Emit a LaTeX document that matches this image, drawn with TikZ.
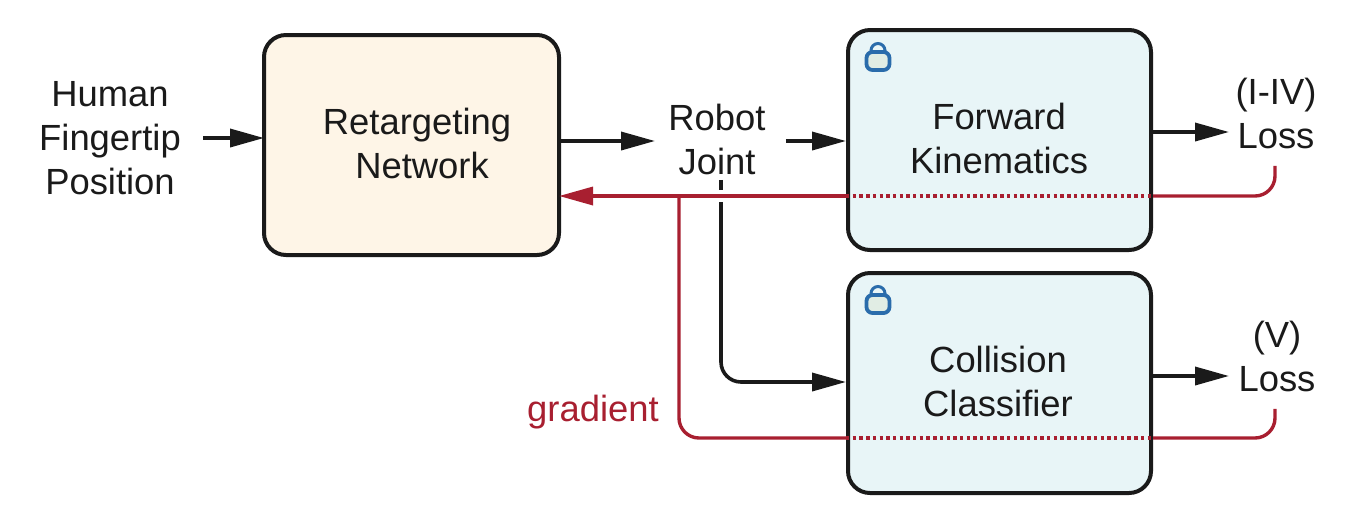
\documentclass[tikz,border=0pt]{standalone}
\usepackage{fontspec}
\setmainfont{Liberation Sans}
\usetikzlibrary{arrows.meta, positioning}
\definecolor{inkblack}{HTML}{1A1A1A}
\definecolor{gradred}{HTML}{A81F30}
\definecolor{netfill}{HTML}{FEF5E7}
\definecolor{frozenfill}{HTML}{E8F5F7}
\definecolor{lockblue}{HTML}{2A6CAB}
\definecolor{lockfill}{HTML}{E1EDE4}
\tikzset{
  block/.style={draw=inkblack, line width=2pt, rounded corners=11pt, align=center, text=inkblack, font=\fontsize{18.2pt}{22pt}\selectfont},
  label/.style={align=center, inner sep=0pt, text=inkblack, font=\fontsize{18.2pt}{22pt}\selectfont},
  flow/.style={draw=inkblack, line width=1.8pt, rounded corners=10pt, -{Triangle[length=17pt,width=9pt]}},
  flowplain/.style={draw=inkblack, line width=1.8pt},
  grad/.style={draw=gradred, line width=1.7pt, rounded corners=10pt},
  gradtip/.style={grad, -{Triangle[length=17pt,width=9pt]}},
  graddot/.style={draw=gradred, line width=1.7pt, dash pattern=on 1.7pt off 1.65pt},
  lockicon/.pic={
    \draw[lockblue, line width=1.5pt] (-7,-9) -- (-7,-10.5) arc[start angle=180, end angle=360, x radius=7, y radius=7] -- (7,-9);
    \draw[lockblue, fill=lockfill, line width=1.9pt, rounded corners=3pt] (-11.5,-9) rectangle (11.5,9);
  },
}
\begin{document}
\begin{tikzpicture}[x=0.5pt, y=-0.5pt]
\useasboundingbox (0,0) rectangle (1360,516);
% boxes
\node[block, fill=netfill, minimum width=147.5pt, minimum height=110pt] (retarget) at (411.5,145) {};
\node[block, fill=frozenfill, minimum width=151.5pt, minimum height=110pt] (forward) at (999.5,140) {};
\node[block, fill=frozenfill, minimum width=151.5pt, minimum height=110pt] (collision) at (999.5,383) {};
\node[label] (retargetlabel) at (417,143) {Retargeting\\\hspace*{5pt}Network};
\node[label] (forwardlabel) at (999,138) {Forward\\Kinematics};
\node[label] (collisionlabel) at (998,381) {Collision\\Classifier};
% texts
\node[label] (human) at (110,138) {Human\\Fingertip\\Position};
\node[label] (joint) at (717,139) {Robot\\Joint};
\node[label] (lossa) at (1276,113) {(I-IV)\\Loss};
\node[label] (lossb) at (1277,356) {(V)\\Loss};
\node[label, text=gradred] (gradlabel) at (593,412) {gradient};
% locks
\pic at (878,61) {lockicon};
\pic at (878,304) {lockicon};
% gradient lines
\coordinate (fkin) at (forward.west |- 0,196);
\coordinate (fkout) at (forward.east |- 0,196);
\coordinate (ccin) at (collision.west |- 0,438);
\coordinate (ccout) at (collision.east |- 0,438);
\coordinate (branch) at (679,196);
\coordinate (crossing) at (721,196);
\draw[gradtip] (fkin) -- ([xshift=-1pt]retarget.east |- fkin);
\draw[graddot] (fkin) -- (fkout);
\draw[grad] (fkout) -| ([xshift=-0.5pt,yshift=-8.5pt]lossa.south);
\draw[grad] (branch) |- (ccin);
\draw[graddot] (ccin) -- (ccout);
\draw[grad] (ccout) -| ([xshift=-1pt,yshift=-8.5pt]lossb.south);
% black arrows
\draw[flow] ([xshift=11pt]human.east) -- ([xshift=1pt]human.east -| retarget.west);
\draw[flow] (retarget.east |- 0,141) -- ++(94,0);
\draw[flow] ([xshift=10pt]joint.east |- 0,141) -- (forward.west |- 0,141);
\draw[flow] (forward.east |- 0,132) -- ++(76,0);
\draw[flow] (collision.east |- 0,376) -- ++(76,0);
\draw[flowplain] ([yshift=-2.5pt]crossing |- joint.south) -- ([yshift=3pt]crossing);
\draw[flow] ([yshift=-3pt]crossing) |- (collision.west |- 0,382);
\end{tikzpicture}
\end{document}
